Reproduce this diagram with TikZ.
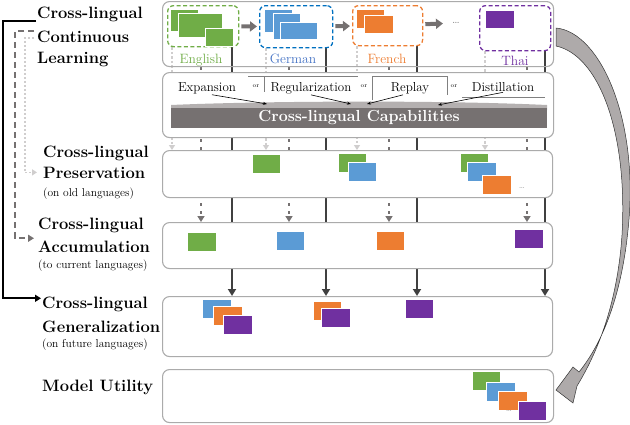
\documentclass[tikz,border=0pt]{standalone}
\usepackage{fontspec}
\usetikzlibrary{arrows.meta}
\definecolor{cgreen}{HTML}{70AD47}
\definecolor{cblue}{HTML}{5B9BD5}
\definecolor{cdblue}{HTML}{0070C0}
\definecolor{ctblue}{HTML}{4472C4}
\definecolor{corange}{HTML}{ED7D31}
\definecolor{cpurple}{HTML}{7030A0}
\definecolor{cpanel}{HTML}{ABABAB}
\definecolor{cdark}{HTML}{404040}
\definecolor{cmid}{HTML}{757171}
\definecolor{clight}{HTML}{D0CECE}
\definecolor{cbar}{HTML}{767171}
\definecolor{cbartop}{HTML}{B4B0B0}
\definecolor{cbig}{HTML}{AEAAAA}
\pgfdeclarelayer{bg}
\pgfsetlayers{bg,main}
\def\blk[#1](#2)(#3,#4){\filldraw[blk=#1] (#2) rectangle ++(#3,#4);}
\tikzset{
	panel/.style={draw=cpanel, line width=1.1pt, rounded corners=7pt, anchor=north west, inner sep=0pt},
	langbox/.style={draw=#1, dash pattern=on 4pt off 2.5pt, line width=1.3pt, rounded corners=6pt, anchor=north west, inner sep=0pt},
	blk/.style={fill=#1, draw=white, line width=0.7pt},
	head/.style={font=\fontsize{16.5}{19}\selectfont\bfseries, anchor=base west, inner sep=0pt},
	sub/.style={font=\fontsize{11.5}{13}\selectfont, anchor=base west, inner sep=0pt},
	lang/.style={font=\fontsize{13.5}{15}\selectfont, text=#1, anchor=base, inner sep=0pt},
	meth/.style={font=\fontsize{13}{15}\selectfont, anchor=base, inner sep=1pt},
	orlbl/.style={font=\fontsize{6}{7}\selectfont, anchor=base, inner sep=0pt},
	dots/.style={font=\fontsize{9}{10}\selectfont, text=gray, inner sep=1pt},
	capbar/.style={fill=cbar, minimum width=376pt, minimum height=20pt, inner sep=0pt, text=white, font=\fontsize{16}{19}\selectfont\bfseries},
	frameln/.style={draw=gray, line width=0.5pt},
	steparrow/.style={-{Triangle[width=10pt,length=7pt]}, line width=4pt, draw=cmid, shorten <=2pt, shorten >=2pt},
	darkln/.style={-{Triangle[width=8pt,length=7pt]}, line width=2.6pt, draw=cdark},
	midln/.style={-{Triangle[width=7pt,length=6pt]}, line width=2pt, draw=cmid, dash pattern=on 3pt off 5pt},
	lightln/.style={-{Triangle[width=6pt,length=5pt]}, line width=1.6pt, draw=clight, dash pattern=on 2.5pt off 2pt},
	methln/.style={-{Stealth[length=4pt,width=3pt]}, line width=0.6pt},
	blackln/.style={-{Triangle[width=7pt,length=6pt]}, line width=2pt, shorten <=1pt, shorten >=1pt},
	grayln/.style={-{Triangle[width=7pt,length=6pt]}, line width=1.6pt, draw=cmid, dash pattern=on 6pt off 4pt, shorten <=3pt, shorten >=4pt},
	lightl/.style={-{Triangle[width=6pt,length=5pt]}, line width=1.6pt, draw=clight, dash pattern=on 2pt off 2pt, shorten <=3pt, shorten >=6pt}
}

\begin{document}
\begin{tikzpicture}[x=1pt,y=-1pt]
		%%%%% START %%%%%
		\useasboundingbox (0,0) rectangle (630,424);
		
		% languages in a row
		\node[panel, minimum width=391pt, minimum height=65pt] (topp) at (162,1) {};
		\node[langbox=cgreen, minimum width=71pt, minimum height=41pt] (en) at (167,5) {};
		\node[langbox=cdblue, minimum width=73pt, minimum height=42pt] (de) at (259,5) {};
		\node[langbox=corange, minimum width=70pt, minimum height=40pt] (fr) at (352,5) {};
		\node[langbox=cpurple, minimum width=71pt, minimum height=45pt] (th) at (479,5) {};
		\node[dots, font=\fontsize{12}{13}\selectfont] (dts) at (456,23) {\dots};
		
		\blk[cgreen](170,9)(28,22) \blk[cgreen](178,13)(44,24) \blk[cgreen](205,28)(28,18)
		\blk[cblue](264,9)(28,23) \blk[cblue](273,13)(27,26) \blk[cblue](280,22)(37,17)
		\blk[corange](356,9)(28,19) \blk[corange](364,15)(29,18)
		\blk[cpurple](485,10)(29,18)
		
		\node[lang=cgreen] (enl) at (201,63) {English};
		\node[lang=ctblue] (del) at (293,63) {German};
		\node[lang=corange] (frl) at (387,63) {French};
		\node[lang=cpurple] (thl) at (515,65) {Thai};
		
		\draw[steparrow] (en) -- (de);
		\draw[steparrow] (de) -- (fr);
		\draw[steparrow, shorten >=8pt] (fr) -- (dts);
		
		% panels
		\node[panel, fill=white, minimum width=391pt, minimum height=65pt] (capp) at (162,72) {};
		\node[panel, fill=white, minimum width=390pt, minimum height=47pt] (pres) at (162,150) {};
		\node[panel, fill=white, minimum width=390pt, minimum height=46pt] (acc) at (162,222) {};
		\node[panel, fill=white, minimum width=390pt, minimum height=60pt] (gen) at (162,296) {};
		\node[panel, fill=white, minimum width=391pt, minimum height=53pt] (util) at (162,369) {};
		
		% lines behind the panels
		\begin{pgfonlayer}{bg}
		\foreach \x/\b in {232/en,326/de,417/fr,545/th}{
			\coordinate (xd) at (\x,0);
			\draw[darkln] (xd |- \b.south) -- (xd |- gen.north);
		}
		\foreach \x in {201,289,389,527}{
			\coordinate (xm) at (\x,0);
			\draw[midln] (xm |- topp.south) -- (xm |- acc.north);
		}
		\foreach \x/\b in {172/en,266/de,357/fr,485/th}{
			\coordinate (xl) at (\x,0);
			\draw[lightln] (xl |- \b.south) -- (xl |- pres.north);
		}
		\end{pgfonlayer}
		
		% capabilities
		\node[meth] (exp) at (207,91) {Expansion};
		\node[meth] (reg) at (311,91) {Regularization};
		\node[meth] (rep) at (410,91) {Replay};
		\node[meth] (dis) at (503,91) {Distillation};
		\node[orlbl] (or1) at (256,87) {or};
		\node[orlbl] (or2) at (364,87) {or};
		\node[orlbl] (or3) at (454,87) {or};
		\draw[frameln] (248,76) -- (358,76);
		\draw[frameln] (264,76) -- (264,92);
		\draw[frameln] (372,100) -- (372,76) -- (447,76) -- (447,95);
		\draw[frameln] (462,97) -- (545,97);
		
		\fill[cbartop] (171,105) .. controls (260,101) and (440,100) .. (547,105) -- (547,110) -- (171,110) -- cycle;
		\node[capbar] (cap) at (359,118) {Cross-lingual Capabilities};
		
		\coordinate (c1) at (267,104);
		\coordinate (c2) at (351,104);
		\coordinate (c3) at (367,104);
		\coordinate (c4) at (438,105);
		\draw[methln] ([xshift=5pt]exp.south) -- (c1);
		\draw[methln] (reg.south) -- (c2);
		\draw[methln] ([xshift=-7pt]rep.south) -- (c3);
		\draw[methln] (dis.south) -- (c4);
		
		% preservation
		\blk[cgreen](252,154)(28,19)
		\blk[cgreen](338,153)(28,19) \blk[cblue](348,162)(28,19)
		\blk[cgreen](460,153)(28,19) \blk[cblue](467,162)(29,19) \blk[corange](482,175)(29,19)
		\node[dots] (dpr) at (522,188) {\dots};
		
		% accumulation
		\blk[cgreen](187,232)(29,19)
		\blk[cblue](276,231)(28,19)
		\blk[corange](376,231)(28,19)
		\blk[cpurple](514,229)(29,19)
		
		% generalization
		\blk[cblue](202,299)(29,19) \blk[corange](213,306)(29,19) \blk[cpurple](223,315)(29,19)
		\blk[corange](313,301)(28,19) \blk[cpurple](321,308)(29,19)
		\blk[cpurple](405,299)(28,19)
		
		% utility
		\blk[cgreen](472,371)(28,19) \blk[cblue](486,382)(29,19) \blk[corange](498,391)(29,19)
		\node[dots] (dut) at (509,411) {\dots};
		\blk[cpurple](518,401)(28,19)
		
		% headings on the left
		\node[head] (cl0) at (37,18) {Cross-lingual};
		\node[head] (cont) at (37,42) {Continuous};
		\node[head] (lrn) at (37,63) {Learning};
		\node[head] (cp1) at (43,157) {Cross-lingual};
		\node[head] (cp2) at (43,178) {Preservation};
		\node[sub] (cp3) at (43,196) {(on old languages)};
		\node[head] (ca1) at (38,229) {Cross-lingual};
		\node[head] (ca2) at (38,252) {Accumulation};
		\node[sub] (ca3) at (38,268) {(to current languages)};
		\node[head] (cg1) at (42,308) {Cross-lingual};
		\node[head] (cg2) at (42,332) {Generalization};
		\node[sub] (cg3) at (42,347) {(on future languages)};
		\node[head] (mu) at (42,391) {Model Utility};
		
		\coordinate (lxa) at (3,0);
		\coordinate (lxb) at (15,0);
		\coordinate (lxc) at (25,0);
		\coordinate (b0) at ([yshift=-3pt]cl0.base west);
		\coordinate (b1) at ([yshift=-2pt]cg1.north west);
		\coordinate (g0) at ([yshift=-1pt]cont.north west);
		\coordinate (g1) at ([yshift=2pt]ca2.north west);
		\coordinate (d0) at ([yshift=-1.5pt]cont.west);
		\draw[blackln] (b0) -- (b0 -| lxa) |- (b1);
		\draw[grayln] (g0) -- (g0 -| lxb) |- (g1);
		\draw[lightl] (d0) -- (d0 -| lxc) |- (cp2.west);
		
		% big curved arrow
		\filldraw[fill=cbig, draw=black!80, line width=0.5pt] (556,28) .. controls (600,32) and (640,120) .. (628,230) .. controls (622,290) and (605,340) .. (579,372) -- (573,367) -- (556,390) -- (573,403) -- (577,386) .. controls (602,345) and (618,295) .. (622,235) .. controls (628,130) and (598,55) .. (556,46) -- cycle;
		
		%%%%% END %%%%%
\end{tikzpicture}
\end{document}
